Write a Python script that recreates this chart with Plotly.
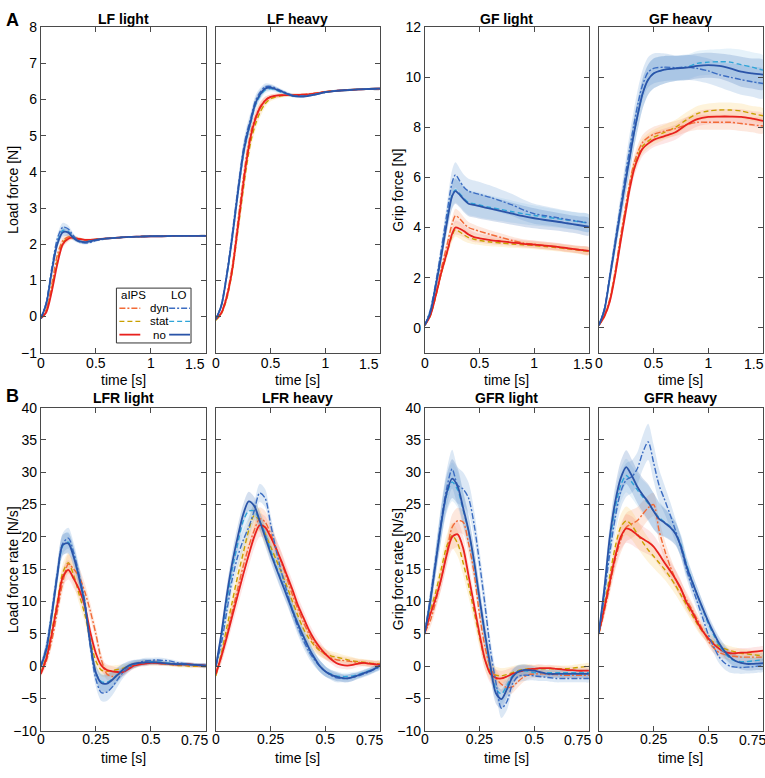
import plotly.graph_objects as go

W, H = 765, 778
FONT = "Liberation Sans, Arial, Helvetica, sans-serif"

# ---------------- time grids ----------------
t_A = [0, 0.05, 0.1, 0.15, 0.2, 0.25, 0.28, 0.32, 0.36, 0.4, 0.45, 0.5, 0.6, 0.7, 0.8, 0.9, 1.0, 1.1, 1.2, 1.3, 1.4, 1.5]
t_B = [0, 0.025, 0.05, 0.075, 0.1, 0.125, 0.15, 0.175, 0.2, 0.225, 0.25, 0.275, 0.3, 0.325, 0.35, 0.375,
       0.4, 0.425, 0.45, 0.475, 0.5, 0.525, 0.55, 0.575, 0.6, 0.625, 0.65, 0.675, 0.7, 0.725, 0.75]

# ---------------- LF light ----------------
LF_light_aIPS_dyn = [-0.05, 0.2, 0.9, 1.7, 2.1, 2.2, 2.2, 2.17, 2.14, 2.12, 2.12, 2.13, 2.16, 2.18, 2.2, 2.21, 2.22, 2.22, 2.23, 2.23, 2.23, 2.23]
LF_light_aIPS_stat = [-0.05, 0.16, 0.8, 1.55, 2.04, 2.17, 2.19, 2.16, 2.14, 2.12, 2.12, 2.13, 2.16, 2.18, 2.2, 2.21, 2.22, 2.22, 2.23, 2.23, 2.23, 2.23]
LF_light_aIPS_no = [-0.05, 0.12, 0.7, 1.45, 2.0, 2.15, 2.18, 2.16, 2.14, 2.12, 2.12, 2.13, 2.16, 2.18, 2.2, 2.21, 2.22, 2.22, 2.23, 2.23, 2.23, 2.23]
LF_light_LO_dyn = [-0.05, 0.4, 1.35, 2.15, 2.47, 2.42, 2.3, 2.15, 2.06, 2.03, 2.05, 2.1, 2.15, 2.18, 2.2, 2.21, 2.22, 2.22, 2.23, 2.23, 2.23, 2.23]
LF_light_LO_stat = [-0.05, 0.38, 1.3, 2.05, 2.38, 2.35, 2.25, 2.13, 2.08, 2.07, 2.09, 2.12, 2.16, 2.18, 2.2, 2.21, 2.22, 2.22, 2.23, 2.23, 2.23, 2.23]
LF_light_LO_no = [-0.05, 0.35, 1.25, 2.0, 2.33, 2.32, 2.22, 2.12, 2.07, 2.06, 2.08, 2.12, 2.16, 2.18, 2.2, 2.21, 2.22, 2.22, 2.23, 2.23, 2.23, 2.23]
LF_light_aIPS_sem = [0.03, 0.05, 0.08, 0.1, 0.1, 0.08, 0.06, 0.05, 0.04, 0.03, 0.03, 0.03, 0.02, 0.02, 0.02, 0.02, 0.02, 0.02, 0.02, 0.02, 0.02, 0.02]
LF_light_LO_sem = [0.03, 0.06, 0.1, 0.12, 0.12, 0.1, 0.08, 0.06, 0.05, 0.04, 0.03, 0.03, 0.02, 0.02, 0.02, 0.02, 0.02, 0.02, 0.02, 0.02, 0.02, 0.02]

# ---------------- LF heavy ----------------
LF_heavy_aIPS_dyn = [-0.07, 0.12, 0.6, 1.4, 2.6, 3.8, 4.45, 5.1, 5.5, 5.78, 5.98, 6.07, 6.12, 6.13, 6.14, 6.17, 6.21, 6.24, 6.26, 6.28, 6.29, 6.3]
LF_heavy_aIPS_stat = [-0.1, 0.08, 0.5, 1.25, 2.35, 3.5, 4.15, 4.85, 5.3, 5.62, 5.88, 6.02, 6.1, 6.12, 6.13, 6.16, 6.21, 6.24, 6.26, 6.28, 6.29, 6.3]
LF_heavy_aIPS_no = [-0.07, 0.1, 0.55, 1.3, 2.45, 3.65, 4.3, 5.0, 5.45, 5.75, 5.97, 6.07, 6.12, 6.12, 6.13, 6.16, 6.21, 6.24, 6.26, 6.28, 6.29, 6.3]
LF_heavy_LO_dyn = [-0.07, 0.33, 1.2, 2.3, 3.5, 4.6, 5.05, 5.5, 5.95, 6.18, 6.35, 6.36, 6.24, 6.12, 6.1, 6.14, 6.2, 6.24, 6.26, 6.28, 6.29, 6.3]
LF_heavy_LO_stat = [-0.07, 0.3, 1.12, 2.15, 3.35, 4.45, 4.9, 5.38, 5.83, 6.08, 6.26, 6.3, 6.2, 6.1, 6.09, 6.14, 6.2, 6.24, 6.26, 6.28, 6.29, 6.3]
LF_heavy_LO_no = [-0.07, 0.3, 1.15, 2.2, 3.4, 4.5, 4.95, 5.42, 5.88, 6.12, 6.3, 6.33, 6.22, 6.1, 6.08, 6.13, 6.2, 6.24, 6.26, 6.28, 6.29, 6.3]
LF_heavy_aIPS_sem = [0.03, 0.05, 0.1, 0.15, 0.2, 0.22, 0.22, 0.2, 0.17, 0.14, 0.1, 0.07, 0.05, 0.04, 0.03, 0.03, 0.03, 0.03, 0.03, 0.03, 0.03, 0.03]
LF_heavy_LO_sem = [0.03, 0.06, 0.12, 0.18, 0.22, 0.22, 0.2, 0.18, 0.15, 0.12, 0.09, 0.07, 0.05, 0.04, 0.03, 0.03, 0.03, 0.03, 0.03, 0.03, 0.03, 0.03]

# ---------------- GF light ----------------
GF_light_aIPS_dyn = [0.1, 0.5, 1.35, 2.35, 3.25, 4.15, 4.47, 4.35, 4.15, 4.0, 3.92, 3.85, 3.72, 3.6, 3.48, 3.38, 3.33, 3.28, 3.23, 3.17, 3.12, 3.06]
GF_light_aIPS_stat = [0.1, 0.47, 1.25, 2.15, 2.93, 3.68, 3.92, 3.82, 3.7, 3.6, 3.53, 3.48, 3.42, 3.38, 3.34, 3.31, 3.28, 3.24, 3.2, 3.15, 3.1, 3.04]
GF_light_aIPS_no = [0.1, 0.48, 1.27, 2.18, 2.97, 3.75, 4.0, 3.95, 3.85, 3.72, 3.62, 3.57, 3.5, 3.45, 3.4, 3.35, 3.32, 3.28, 3.24, 3.18, 3.12, 3.07]
GF_light_LO_dyn = [0.1, 0.7, 1.8, 3.1, 4.5, 5.8, 6.1, 5.85, 5.6, 5.45, 5.38, 5.32, 5.2, 5.05, 4.9, 4.7, 4.55, 4.47, 4.4, 4.32, 4.25, 4.18]
GF_light_LO_stat = [0.1, 0.65, 1.7, 2.9, 4.2, 5.3, 5.5, 5.35, 5.15, 5.0, 4.95, 4.9, 4.8, 4.72, 4.63, 4.55, 4.48, 4.42, 4.36, 4.3, 4.24, 4.17]
GF_light_LO_no = [0.1, 0.6, 1.66, 2.84, 4.14, 5.25, 5.45, 5.3, 5.1, 4.95, 4.9, 4.85, 4.75, 4.65, 4.55, 4.45, 4.37, 4.3, 4.24, 4.17, 4.1, 4.03]
GF_light_aIPS_sem = [0.05, 0.08, 0.12, 0.15, 0.2, 0.25, 0.28, 0.27, 0.25, 0.22, 0.2, 0.18, 0.17, 0.16, 0.15, 0.15, 0.15, 0.15, 0.15, 0.15, 0.15, 0.15]
GF_light_LO_sem = [0.05, 0.1, 0.2, 0.3, 0.4, 0.5, 0.5, 0.5, 0.5, 0.5, 0.5, 0.5, 0.48, 0.46, 0.44, 0.42, 0.4, 0.38, 0.36, 0.35, 0.35, 0.35]

# ---------------- GF heavy ----------------
GF_heavy_aIPS_dyn = [0.1, 0.5, 1.15, 2.3, 3.7, 5.0, 5.75, 6.55, 7.05, 7.4, 7.6, 7.72, 7.85, 7.95, 8.1, 8.2, 8.2, 8.2, 8.2, 8.15, 8.1, 8.05]
GF_heavy_aIPS_stat = [0.1, 0.45, 1.1, 2.2, 3.55, 4.85, 5.6, 6.4, 6.9, 7.25, 7.45, 7.6, 7.8, 8.0, 8.3, 8.55, 8.65, 8.69, 8.69, 8.65, 8.55, 8.46]
GF_heavy_aIPS_no = [0.1, 0.45, 1.05, 2.13, 3.47, 4.75, 5.5, 6.3, 6.8, 7.15, 7.35, 7.5, 7.65, 7.8, 8.1, 8.33, 8.42, 8.43, 8.43, 8.42, 8.35, 8.26]
GF_heavy_LO_dyn = [0.1, 0.75, 2.1, 3.5, 4.9, 6.3, 7.1, 8.1, 9.0, 9.7, 10.2, 10.35, 10.4, 10.38, 10.4, 10.35, 10.25, 10.1, 10.0, 9.9, 9.82, 9.75]
GF_heavy_LO_stat = [0.1, 0.7, 2.0, 3.35, 4.7, 6.0, 6.75, 7.75, 8.6, 9.35, 9.9, 10.15, 10.3, 10.35, 10.4, 10.55, 10.6, 10.62, 10.6, 10.5, 10.4, 10.28]
GF_heavy_LO_no = [0.1, 0.7, 2.0, 3.35, 4.7, 6.0, 6.75, 7.75, 8.6, 9.35, 9.9, 10.15, 10.3, 10.35, 10.38, 10.45, 10.48, 10.45, 10.35, 10.22, 10.15, 10.1]
GF_heavy_aIPS_sem = [0.05, 0.1, 0.15, 0.2, 0.25, 0.3, 0.3, 0.3, 0.3, 0.3, 0.3, 0.3, 0.3, 0.3, 0.3, 0.3, 0.3, 0.3, 0.3, 0.3, 0.3, 0.3]
GF_heavy_LO_sem = [0.05, 0.15, 0.25, 0.35, 0.45, 0.55, 0.6, 0.6, 0.6, 0.6, 0.6, 0.6, 0.55, 0.5, 0.5, 0.5, 0.5, 0.5, 0.55, 0.6, 0.6, 0.6]

# ---------------- LFR light ----------------
LFR_light_aIPS_dyn = [-1, 0.8, 4, 8.5, 13, 15.8, 15, 13.8, 11.5, 8.5, 5, 1, -1.2, -1.6, -1.3, -0.8, -0.2, 0.2, 0.5, 0.6, 0.6, 0.6, 0.5, 0.4, 0.3, 0.2, 0.2, 0.1, 0.1, 0, 0]
LFR_light_aIPS_stat = [-1, 1.5, 5.5, 10, 14.5, 16, 14, 11, 8, 4, 0.8, -0.6, -0.8, -0.7, -0.5, -0.3, 0, 0.2, 0.4, 0.5, 0.5, 0.5, 0.4, 0.3, 0.2, 0.1, 0.1, 0, 0, 0, 0]
LFR_light_aIPS_no = [-1.2, 1.2, 5, 9.5, 13.8, 14.9, 13.5, 11.8, 9.3, 5.2, 2, 0.1, -0.6, -0.8, -0.9, -0.9, -0.4, 0.1, 0.3, 0.4, 0.5, 0.5, 0.4, 0.4, 0.3, 0.3, 0.3, 0.3, 0.2, 0.2, 0.1]
LFR_light_LO_dyn = [0, 3, 8.5, 14.5, 19, 19.8, 17.5, 14, 10, 3, -2, -4.1, -4.0, -3.2, -2.0, -0.9, -0.2, 0.3, 0.6, 0.8, 0.9, 0.95, 0.9, 0.85, 0.7, 0.5, 0.4, 0.3, 0.2, 0.15, 0.1]
LFR_light_LO_stat = [0, 2.7, 8, 14, 18.6, 19.2, 17, 13.6, 9.4, 3.6, -1, -2.4, -2.5, -2, -1.2, -0.5, 0, 0.3, 0.5, 0.6, 0.7, 0.7, 0.6, 0.5, 0.4, 0.3, 0.3, 0.2, 0.2, 0.1, 0.1]
LFR_light_LO_no = [0, 2.5, 7.9, 14, 18.8, 19.0, 16.8, 13.5, 9.5, 3.5, -1.0, -2.6, -2.7, -2.1, -1.3, -0.5, 0.1, 0.4, 0.5, 0.6, 0.6, 0.6, 0.5, 0.4, 0.35, 0.3, 0.3, 0.25, 0.2, 0.15, 0.1]
LFR_light_aIPS_sem = [0.5, 0.8, 1, 1.2, 1.4, 1.5, 1.5, 1.4, 1.3, 1.2, 1.1, 1, 0.9, 0.8, 0.7, 0.6, 0.5, 0.5, 0.4, 0.4, 0.4, 0.4, 0.3, 0.3, 0.3, 0.3, 0.3, 0.3, 0.3, 0.3, 0.3]
LFR_light_LO_sem = [0.5, 1, 1.3, 1.5, 1.6, 1.6, 1.5, 1.4, 1.3, 1.2, 1.2, 1.3, 1.4, 1.3, 1.1, 0.9, 0.7, 0.6, 0.5, 0.5, 0.4, 0.4, 0.4, 0.3, 0.3, 0.3, 0.3, 0.3, 0.3, 0.3, 0.3]

# ---------------- LFR heavy ----------------
LFR_heavy_aIPS_dyn = [-1, 1.5, 5, 8.5, 12, 15.5, 18.5, 21, 22.8, 22.3, 20.5, 18.3, 16, 13.5, 11, 8.8, 6.8, 5, 3.5, 2.5, 1.8, 1.3, 1, 0.9, 0.8, 0.7, 0.6, 0.5, 0.4, 0.3, 0.3]
LFR_heavy_aIPS_stat = [-1.5, 2, 6, 10, 14, 17.5, 21, 23.3, 22.5, 20.5, 18.5, 16.5, 14.5, 12.3, 10, 7.8, 5.8, 4.3, 3.2, 2.4, 1.9, 1.6, 1.4, 1.2, 1.0, 0.8, 0.7, 0.6, 0.5, 0.4, 0.4]
LFR_heavy_aIPS_no = [-1.2, 1.5, 4.5, 7.8, 11, 14.2, 17.2, 20, 21.8, 21.5, 20, 18.2, 16.2, 14, 11.8, 9.4, 7.5, 5.6, 4.1, 2.9, 1.9, 1.1, 0.5, 0.2, 0.1, 0.2, 0.4, 0.5, 0.4, 0.3, 0.2]
LFR_heavy_LO_dyn = [0, 3.5, 8.5, 13.5, 17, 19.5, 21.5, 24, 26.8, 26, 22, 18, 14.5, 11.5, 8.5, 6, 4, 2.3, 1, 0, -0.8, -1.4, -1.8, -1.9, -1.9, -1.7, -1.5, -1.2, -0.9, -0.5, -0.1]
LFR_heavy_LO_stat = [0, 4.5, 10, 15, 19, 22.5, 24, 24, 22.5, 20.5, 18, 15.5, 13.2, 11, 8.8, 6.6, 4.6, 2.8, 1.2, 0, -0.8, -1.2, -1.5, -1.6, -1.6, -1.5, -1.3, -1, -0.7, -0.4, 0]
LFR_heavy_LO_no = [0, 5, 11, 16, 20, 23.5, 25.5, 24.8, 22.5, 20, 17.5, 15.2, 13, 10.8, 8.6, 6.5, 4.6, 2.8, 1.3, 0, -0.8, -1.3, -1.6, -1.8, -1.9, -1.7, -1.4, -1.1, -0.8, -0.4, 0.1]
LFR_heavy_aIPS_sem = [0.5, 1, 1.3, 1.5, 1.7, 1.8, 1.8, 1.8, 1.8, 1.7, 1.6, 1.5, 1.5, 1.4, 1.4, 1.3, 1.2, 1.1, 1, 0.9, 0.8, 0.7, 0.7, 0.6, 0.6, 0.6, 0.5, 0.5, 0.5, 0.5, 0.5]
LFR_heavy_LO_sem = [0.5, 1.2, 1.5, 1.7, 1.8, 1.6, 1.5, 1.4, 1.4, 1.4, 1.4, 1.4, 1.4, 1.3, 1.3, 1.2, 1.2, 1.1, 1, 0.9, 0.8, 0.7, 0.7, 0.6, 0.6, 0.6, 0.5, 0.5, 0.5, 0.5, 0.5]

# ---------------- GFR light ----------------
GFR_light_aIPS_dyn = [5.2, 7, 10, 13.5, 17.5, 21.5, 22.5, 22.3, 19, 14.5, 8, 3, -0.2, -1.8, -2.8, -3.3, -3.2, -2.4, -1.7, -1.3, -1.2, -1.2, -1.2, -1.3, -1.3, -1.4, -1.4, -1.4, -1.4, -1.4, -1.4]
GFR_light_aIPS_stat = [5.2, 8.5, 11.5, 15, 18.5, 20.2, 19, 16, 12.5, 8.5, 4.5, 1, -0.8, -1.4, -1.5, -1.3, -1, -0.7, -0.5, -0.4, -0.4, -0.4, -0.4, -0.4, -0.4, -0.4, -0.4, -0.3, -0.2, -0.1, 0]
GFR_light_aIPS_no = [5.2, 8, 10.5, 13.5, 17.2, 20, 20.4, 18.3, 14, 9.5, 5, 1, -1.2, -1.8, -1.9, -1.6, -1.2, -0.9, -0.7, -0.5, -0.4, -0.3, -0.3, -0.3, -0.4, -0.5, -0.6, -0.6, -0.7, -0.7, -0.7]
GFR_light_LO_dyn = [5.2, 10.5, 16.5, 22.5, 27.5, 30.5, 28, 27.4, 26, 22, 16, 9.5, 2.5, -2.5, -6.5, -5.5, -2.8, -1.6, -1.4, -1.4, -1.5, -1.6, -1.7, -1.8, -1.9, -1.9, -1.9, -1.9, -1.9, -1.9, -1.9]
GFR_light_LO_stat = [5.2, 10, 16, 22, 26.5, 28.5, 27.3, 24.2, 20.8, 16, 10.3, 4.8, -0.2, -3.5, -4.3, -3, -1.5, -0.8, -0.7, -0.8, -1, -1, -1, -1, -1, -1, -1, -1, -1, -1, -1]
GFR_light_LO_no = [5.2, 10, 16, 22, 26.8, 29, 27.8, 24.5, 21, 16.3, 10.5, 5, 0, -4.2, -5.1, -3.6, -1.7, -0.9, -0.6, -0.6, -0.7, -0.9, -1.1, -1.2, -1.2, -1.2, -1.2, -1.2, -1.2, -1.2, -1.2]
GFR_light_aIPS_sem = [0.5, 1, 1.3, 1.6, 1.8, 2, 2, 1.9, 1.8, 1.7, 1.6, 1.5, 1.4, 1.3, 1.2, 1.1, 1, 0.9, 0.8, 0.7, 0.6, 0.6, 0.5, 0.5, 0.5, 0.5, 0.5, 0.5, 0.5, 0.5, 0.5]
GFR_light_LO_sem = [0.5, 1.5, 2, 2.5, 2.8, 3, 2.8, 2.6, 2.4, 2.2, 2, 1.9, 1.8, 1.6, 1.5, 1.3, 1.1, 1, 0.9, 0.8, 0.7, 0.7, 0.6, 0.6, 0.6, 0.6, 0.6, 0.6, 0.6, 0.6, 0.6]

# ---------------- GFR heavy ----------------
GFR_heavy_aIPS_dyn = [5, 8.5, 12.5, 16.5, 19.5, 21.5, 22, 22.5, 23.5, 24.5, 25, 21, 18, 15.5, 13.5, 11.8, 10.3, 8.8, 7.2, 5.6, 3.9, 2.8, 2.1, 1.8, 1.6, 1.5, 1.4, 1.4, 1.4, 1.4, 1.4]
GFR_heavy_aIPS_stat = [5, 9.5, 14, 18.5, 21.5, 22.5, 21.8, 20.5, 19.2, 18, 17, 16, 15, 13.8, 12.5, 11, 9.5, 8, 6.5, 5.3, 4.4, 3.7, 3.1, 2.7, 2.4, 2.2, 2.0, 1.9, 1.8, 1.7, 1.6]
GFR_heavy_aIPS_no = [5.2, 9, 13, 17, 20, 21.3, 21, 20.3, 19.7, 19.2, 18.5, 17.3, 16, 14.8, 13.5, 12, 9.9, 8.5, 6.8, 5.4, 4.3, 3.4, 2.7, 2.2, 2.0, 2.0, 2.1, 2.1, 2.2, 2.3, 2.4]
GFR_heavy_LO_dyn = [5.2, 11, 17.5, 23, 27, 28.8, 29.3, 30.5, 33, 34.7, 31.5, 28, 25.8, 23.5, 21, 18.3, 15, 12.4, 9.9, 7.4, 4.9, 3, 1.4, 0.5, 0, -0.15, -0.2, -0.15, -0.1, 0, 0.1]
GFR_heavy_LO_stat = [5.2, 11.5, 19, 24.5, 28, 29.5, 28.5, 27.3, 26.2, 25.2, 24, 23, 22.3, 21.6, 20.6, 18.8, 15.8, 13.3, 11, 8.8, 6.6, 4.8, 3.2, 2, 1.2, 0.8, 0.7, 0.7, 0.8, 0.9, 1]
GFR_heavy_LO_no = [5.2, 12, 20, 25.5, 29.1, 30.8, 29.5, 27.8, 26.5, 25.4, 24, 22.8, 22.2, 21.5, 20.5, 18.5, 15.5, 13.2, 11, 8.9, 6.9, 5.1, 3.5, 2.3, 1.4, 0.8, 0.5, 0.35, 0.35, 0.4, 0.45]
GFR_heavy_aIPS_sem = [0.5, 1, 1.4, 1.7, 2, 2.2, 2.2, 2.1, 2, 1.9, 1.8, 1.7, 1.6, 1.5, 1.4, 1.3, 1.2, 1.1, 1, 0.9, 0.8, 0.8, 0.7, 0.7, 0.7, 0.7, 0.7, 0.7, 0.7, 0.7, 0.7]
GFR_heavy_LO_sem = [0.5, 1.5, 2, 2.4, 2.6, 2.6, 2.5, 2.5, 2.6, 2.8, 2.8, 2.5, 2.2, 2, 1.8, 1.6, 1.4, 1.3, 1.2, 1.1, 1, 1, 1, 1, 1, 1, 1, 1, 1, 1, 1]

# ---------------- labels ----------------
panel_titles = ["LF light", "LF heavy", "GF light", "GF heavy", "LFR light", "LFR heavy", "GFR light", "GFR heavy"]
y_titles = ["Load force [N]", "Grip force [N]", "Load force rate [N/s]", "Grip force rate [N/s]"]
x_title = "time [s]"
legend_rows = ["dyn", "stat", "no"]
legend_groups = ["aIPS", "LO"]
xticks_A = [0, 0.5, 1, 1.5]
xtext_A = ["0", "0.5", "1", "1.5"]
xticks_B = [0, 0.25, 0.5, 0.75]
xtext_B = ["0", "0.25", "0.5", "0.75"]

# ---------------- styles ----------------
STYLE = {
    "aIPS_dyn": dict(color="#F26A36", dash="6px,2px,2px,2px", width=1.4, fill="rgba(245,140,90,0.20)"),
    "aIPS_stat": dict(color="#C9A000", dash="5px,3px", width=1.4, fill="rgba(250,200,90,0.22)"),
    "aIPS_no": dict(color="#E8211E", dash="solid", width=1.8, fill="rgba(240,100,100,0.16)"),
    "LO_dyn": dict(color="#3C6DC2", dash="6px,2px,2px,2px", width=1.4, fill="rgba(110,160,215,0.24)"),
    "LO_stat": dict(color="#2FA5D8", dash="5px,3px", width=1.4, fill="rgba(130,190,230,0.20)"),
    "LO_no": dict(color="#2A54A8", dash="solid", width=1.8, fill="rgba(60,110,180,0.22)"),
}

def panel(t, prefix):
    g = globals()
    series = {k: g[prefix + "_" + k] for k in STYLE}
    sems = {"aIPS": g[prefix + "_aIPS_sem"], "LO": g[prefix + "_LO_sem"]}
    for k, v in series.items():
        assert len(v) == len(t), (prefix, k, len(v))
    for k, v in sems.items():
        assert len(v) == len(t), (prefix, k, len(v))
    return t, series, sems

panels = [
    panel(t_A, "LF_light"), panel(t_A, "LF_heavy"), panel(t_A, "GF_light"), panel(t_A, "GF_heavy"),
    panel(t_B, "LFR_light"), panel(t_B, "LFR_heavy"), panel(t_B, "GFR_light"), panel(t_B, "GFR_heavy"),
]

# layout geometry in pixels
COLS = [(37, 203), (213, 378), (423, 588), (598, 763)]
ROWS = [(19.5, 352), (408, 738)]

fig = go.Figure()
draw_order_bands = ["aIPS_dyn", "aIPS_stat", "aIPS_no", "LO_dyn", "LO_stat", "LO_no"]
draw_order_lines = ["aIPS_stat", "aIPS_dyn", "aIPS_no", "LO_stat", "LO_dyn", "LO_no"]

for i, (t, series, sems) in enumerate(panels):
    ax = "" if i == 0 else str(i + 1)
    xr, yr = "x" + ax, "y" + ax
    for k in draw_order_bands:
        v = series[k]
        s = sems[k.split("_")[0]]
        up = [a + b for a, b in zip(v, s)]
        lo = [a - b for a, b in zip(v, s)]
        fig.add_trace(go.Scatter(x=list(t) + list(t)[::-1], y=up + lo[::-1], fill="toself",
                                 fillcolor=STYLE[k]["fill"], line=dict(width=0, shape="spline", smoothing=0.8),
                                 mode="lines", hoverinfo="skip", showlegend=False, xaxis=xr, yaxis=yr))
    for k in draw_order_lines:
        st = STYLE[k]
        fig.add_trace(go.Scatter(x=t, y=series[k], mode="lines",
                                 line=dict(color=st["color"], dash=st["dash"], width=st["width"],
                                           shape="spline", smoothing=0.8),
                                 showlegend=False, hoverinfo="skip", xaxis=xr, yaxis=yr))

layout = dict(width=W, height=H, margin=dict(l=0, r=0, t=0, b=0), paper_bgcolor="white",
              plot_bgcolor="white", showlegend=False, font=dict(family=FONT, size=14, color="black"))

TICKFONT = dict(family=FONT, size=14, color="black")
LAST_SHIFT = {0: -11, 1: -11, 2: -6, 3: -9, 4: -11, 5: -11, 6: -11, 7: -11}
LABEL_Y = {0: 363, 1: 747}      # pixel row of the x tick labels
STANDOFF = {0: -3, 1: -5}

def ann(text, px, py, size=14, angle=0, xanchor="center", yanchor="middle", **kw):
    d = dict(text=text, x=px / W, y=1 - py / H, xref="paper", yref="paper", showarrow=False,
             font=dict(family=FONT, size=size, color="black"), textangle=angle,
             xanchor=xanchor, yanchor=yanchor)
    d.update(kw)
    return d

annotations = []

for i in range(8):
    row, col = divmod(i, 4)
    x0, x1 = COLS[col]
    y0, y1 = ROWS[row]
    key = "" if i == 0 else str(i + 1)
    common = dict(showline=True, linecolor="#4a4a4a", linewidth=1, mirror="ticks", ticks="inside",
                  ticklen=5, tickcolor="#4a4a4a", showgrid=False, zeroline=False, tickfont=TICKFONT)
    if row == 0:
        tv, tt, rng = xticks_A, xtext_A, [0, 1.5]
    else:
        tv, tt, rng = xticks_B, xtext_B, [0, 0.75]
    layout["xaxis" + key] = dict(domain=[x0 / W, x1 / W], anchor="y" + key, range=rng,
                                 tickvals=tv, ticktext=tt[:-1] + [""], ticklabelstandoff=STANDOFF[row], **common)
    # last tick label: placed on the axis scale, nudged left as in the reference
    annotations.append(dict(text=tt[-1], x=tv[-1], xref="x" + key, y=1 - LABEL_Y[row] / H, yref="paper",
                            xshift=LAST_SHIFT[i], showarrow=False, font=TICKFONT,
                            xanchor="center", yanchor="middle"))
    if row == 0 and col < 2:
        yt = dict(range=[-1, 8], tickvals=list(range(-1, 9)))
    elif row == 0:
        yt = dict(range=[-1, 12], tickvals=list(range(0, 13, 2)))
    else:
        yt = dict(range=[-10, 40], tickvals=list(range(-10, 41, 5)))
    layout["yaxis" + key] = dict(domain=[1 - y1 / H, 1 - y0 / H], anchor="x" + key,
                                 showticklabels=(col % 2 == 0), **yt, **common)

for i, title in enumerate(panel_titles):
    row, col = divmod(i, 4)
    cx = (COLS[col][0] + COLS[col][1]) / 2
    ty = 11 if row == 0 else 398
    annotations.append(ann("<b>" + title + "</b>", cx, ty, size=14))
    xy = 380 if row == 0 else 766
    annotations.append(ann(x_title, cx, xy, size=14))

annotations.append(ann("<b>A</b>", 9, 12, size=18))
annotations.append(ann("<b>B</b>", 9, 396, size=18))
annotations.append(ann(y_titles[0], 9, (ROWS[0][0] + ROWS[0][1]) / 2, angle=-90))
annotations.append(ann(y_titles[1], 396, (ROWS[0][0] + ROWS[0][1]) / 2, angle=-90))
annotations.append(ann(y_titles[2], 9, (ROWS[1][0] + ROWS[1][1]) / 2, angle=-90))
annotations.append(ann(y_titles[3], 396, (ROWS[1][0] + ROWS[1][1]) / 2, angle=-90))

# legend (inside LF light panel)
shapes = []
LBOX = (113, 286, 188, 342)
shapes.append(dict(type="rect", xref="paper", yref="paper", x0=LBOX[0] / W, x1=LBOX[2] / W,
                   y0=1 - LBOX[3] / H, y1=1 - LBOX[1] / H, line=dict(color="#333", width=1),
                   fillcolor="white", layer="above"))
annotations.append(ann(legend_groups[0], 130.5, 293, size=11.5))
annotations.append(ann(legend_groups[1], 175, 293, size=11.5))
row_y = [306.5, 320, 333.5]
for r, name in enumerate(legend_rows):
    annotations.append(ann(name, 156, row_y[r], size=11.5))
    for gi, (gx0, gx1) in enumerate([(116, 137), (166, 187)]):
        st = STYLE[legend_groups[gi] + "_" + name]
        shapes.append(dict(type="line", xref="paper", yref="paper", x0=gx0 / W, x1=gx1 / W,
                           y0=1 - row_y[r] / H, y1=1 - row_y[r] / H, layer="above",
                           line=dict(color=st["color"], dash=st["dash"], width=st["width"])))

layout["annotations"] = annotations
layout["shapes"] = shapes
fig.update_layout(**layout)

fig.write_html("out.html", config={"displayModeBar": False},
               post_script="document.body.style.margin='0';")
